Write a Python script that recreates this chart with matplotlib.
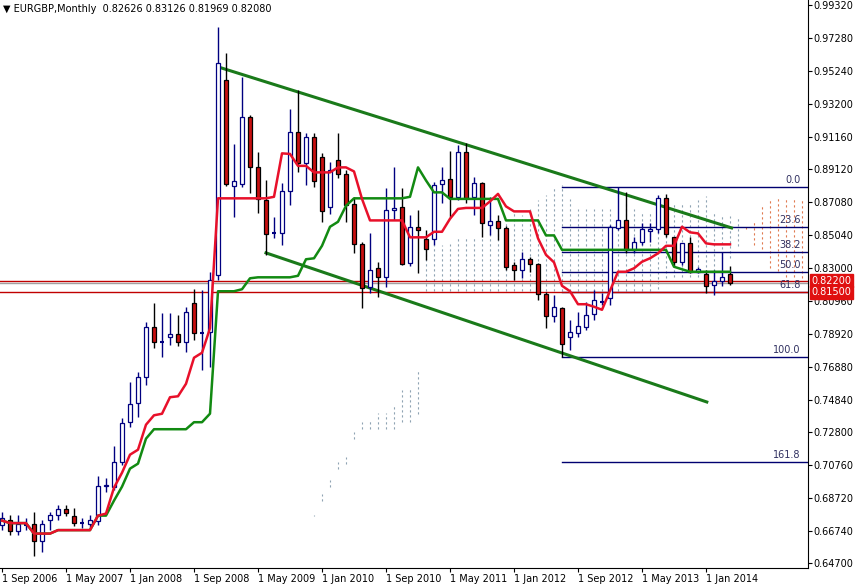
import numpy as np
import pandas as pd
import matplotlib
matplotlib.use("Agg")
import matplotlib.pyplot as plt
import matplotlib.transforms as mtransforms

# Monthly EURGBP candles, Sep 2006 .. Apr 2014
opens = [.6708, .6739, .6671, .6708, .6714, .6609, .6739, .6770, .6807, .6764,
         .6720, .6714, .6733, .6950, .6944, .7099, .7347, .7464, .7626, .7936,
         .7843, .7874, .7892, .7843, .8084, .7898, .7905, .8258, .9467, .8810,
         .8822, .9238, .8928, .8723, .8518, .8518, .8779, .9145, .8952, .9114,
         .8990, .8680, .8971, .8884, .8698, .8450, .8184, .8301, .8246, .8661,
         .8680, .8332, .8556, .8481, .8481, .8822, .8853, .8742, .9021, .8742,
         .8828, .8568, .8593, .8549, .8320, .8289, .8357, .8326, .8140, .8004,
         .8053, .7874, .7898, .7936, .8016, .8091, .8115, .8549, .8599, .8413,
         .8463, .8531, .8543, .8735, .8494, .8339, .8457, .8277, .8264, .8196,
         .8221, .8263]
highs = [.6789, .6770, .6770, .6751, .6789, .6739, .6789, .6832, .6832, .6813,
         .6751, .6770, .7012, .7000, .7198, .7371, .7595, .7657, .7967, .8084,
         .8022, .8022, .8010, .8060, .8171, .8165, .8277, .9796, .9634, .9070,
         .9486, .9250, .9021, .8847, .8618, .8828, .9287, .9405, .9138, .9138,
         .9014, .8959, .9138, .8909, .8742, .8463, .8518, .8339, .8797, .8928,
         .8797, .8630, .8661, .8537, .8835, .8928, .9027, .9064, .9076, .8866,
         .8835, .8742, .8630, .8562, .8339, .8401, .8370, .8332, .8153, .8134,
         .8060, .7979, .8029, .8091, .8165, .8147, .8568, .8804, .8773, .8494,
         .8580, .8580, .8754, .8760, .8494, .8457, .8494, .8308, .8289, .8289,
         .8401, .8313]
lows = [.6677, .6646, .6646, .6677, .6516, .6541, .6677, .6739, .6764, .6702,
        .6689, .6689, .6708, .6913, .6925, .7080, .7316, .7378, .7576, .7805,
        .7750, .7824, .7818, .7781, .7855, .7669, .7688, .8227, .8810, .8618,
        .8804, .8766, .8642, .8382, .8487, .8444, .8692, .8897, .8816, .8804,
        .8587, .8636, .8859, .8587, .8394, .8053, .8146, .8122, .8184, .8599,
        .8320, .8314, .8270, .8351, .8444, .8704, .8618, .8723, .8704, .8630,
        .8494, .8506, .8475, .8289, .8227, .8239, .8277, .8103, .7929, .7967,
        .7750, .7793, .7874, .7917, .7979, .8072, .8072, .8537, .8394, .8394,
        .8444, .8463, .8518, .8494, .8308, .8320, .8270, .8270, .8146, .8134,
        .8190, .8197]
closes = [.6751, .6671, .6714, .6708, .6609, .6714, .6770, .6807, .6782, .6720,
          .6720, .6739, .6950, .6956, .7099, .7340, .7458, .7626, .7936, .7843,
          .7843, .7892, .7843, .8029, .7898, .7898, .8227, .9572, .8822, .8841,
          .9238, .8928, .8729, .8512, .8518, .8779, .9145, .8952, .9114, .8841,
          .8655, .8909, .8884, .8692, .8450, .8177, .8289, .8246, .8661, .8673,
          .8326, .8556, .8537, .8419, .8816, .8847, .8742, .9021, .8735, .8828,
          .8580, .8593, .8549, .8308, .8289, .8357, .8326, .8140, .8004, .8060,
          .7830, .7905, .7942, .8010, .8103, .8091, .8556, .8599, .8413, .8463,
          .8543, .8543, .8735, .8512, .8339, .8457, .8277, .8295, .8190, .8221,
          .8246, .8208]

date_labels = ["1 Sep 2006", "1 May 2007", "1 Jan 2008", "1 Sep 2008", "1 May 2009",
               "1 Jan 2010", "1 Sep 2010", "1 May 2011", "1 Jan 2012", "1 Sep 2012",
               "1 May 2013", "1 Jan 2014"]
price_ticks = [0.99320, 0.97280, 0.95240, 0.93200, 0.91160, 0.89120, 0.87080, 0.85040,
               0.83000, 0.80960, 0.78920, 0.76880, 0.74840, 0.72800, 0.70760, 0.68720,
               0.66680, 0.64700]
price_tick_labels = ["0.99320", "0.97280", "0.95240", "0.93200", "0.91160", "0.89120",
                     "0.87080", "0.85040", "0.83000", "0.80960", "0.78920", "0.76880",
                     "0.74840", "0.72800", "0.70760", "0.68720", "0.66740", "0.64700"]

# drawn objects: channel (bar index, price), fibonacci, horizontal levels
upper_channel_x = [27, 91.2]
upper_channel_y = [0.9548, 0.8549]
lower_channel_x = [33, 88.1]
lower_channel_y = [0.8394, 0.7469]
fib_start = 70
fib_high = 0.8804
fib_low = 0.7750
fib_levels = [0.0, 23.6, 38.2, 50.0, 61.8, 100.0, 161.8]
level_lines = [0.8220, 0.8150]
bid_price = 0.8208

df = pd.DataFrame({"o": opens, "h": highs, "l": lows, "c": closes})
n = len(df)
idx = np.arange(n)

# Ichimoku
tenkan = (df.h.rolling(9, min_periods=1).max() + df.l.rolling(9, min_periods=1).min()) / 2
kijun = (df.h.rolling(26, min_periods=1).max() + df.l.rolling(26, min_periods=1).min()) / 2
span_a = (tenkan + kijun) / 2
span_b = (df.h.rolling(52, min_periods=1).max() + df.l.rolling(52, min_periods=1).min()) / 2

fig = plt.figure(figsize=(8.57, 5.87), dpi=100)
ax = fig.add_axes([0, 19 / 587, 808 / 857, 568 / 587])
ax.set_xlim(-0.25, 100.75)
ax.set_ylim(0.64390, 0.99630)

# cloud as dotted vertical strokes, shifted 26 bars forward
for i in range(n):
    a, b = span_a[i], span_b[i]
    col = "#8fa3b3" if a >= b else "#e07a50"
    ax.vlines(i + 26, min(a, b), max(a, b), colors=col, lw=0.8,
              linestyles=(0, (2, 2.5)), zorder=1)

# fibonacci
rng = fib_high - fib_low
for lv in fib_levels:
    p = fib_high - rng * lv / 100
    ax.plot([fib_start, 100.75], [p, p], color="#000070", lw=1, zorder=2)
    ax.text(99.8, p + 0.0012, f"{lv:.1f}", ha="right", va="bottom",
            fontsize=7, color="#303060", zorder=3)

for lv in level_lines:
    ax.axhline(lv, color="#c00000", lw=1, zorder=2)
ax.axhline(bid_price, color="#a0a0a0", lw=1, zorder=2)

# channel
ax.plot(upper_channel_x, upper_channel_y, color="#1a7a1a", lw=2.2, zorder=3)
ax.plot(lower_channel_x, lower_channel_y, color="#1a7a1a", lw=2.2, zorder=3)

# candles
w = 0.6
for i in range(n):
    o, h, l, c = opens[i], highs[i], lows[i], closes[i]
    bull = c >= o
    wick = "#000080" if bull else "#000000"
    ax.vlines(i, l, h, colors=wick, lw=1, zorder=4)
    bottom, top = min(o, c), max(o, c)
    if top - bottom < 0.0005:
        ax.hlines(o, i - w / 2, i + w / 2, colors=wick, lw=1.5, zorder=5)
    else:
        ax.add_patch(plt.Rectangle((i - w / 2, bottom), w, top - bottom,
                                   facecolor="white" if bull else "#c81010",
                                   edgecolor=wick, lw=0.9, zorder=5))

ax.plot(idx, kijun, color="#128a12", lw=1.8, zorder=6)
ax.plot(idx, tenkan, color="#e8102a", lw=1.8, zorder=7)

# axes
ax.yaxis.tick_right()
ax.set_yticks(price_ticks)
ax.set_yticklabels(price_tick_labels)
ax.set_xticks(np.arange(0, 89, 8))
ax.set_xticklabels(date_labels, ha="left")
ax.tick_params(axis="both", labelsize=7, length=3, pad=1)
for s in ("top", "left"):
    ax.spines[s].set_visible(False)

tr = mtransforms.blended_transform_factory(ax.transAxes, ax.transData)
for lv in level_lines:
    ax.text(1.004, lv, f"{lv:.5f}", transform=tr, fontsize=7, color="white",
            va="center", ha="left", zorder=10,
            bbox=dict(boxstyle="square,pad=0.15", fc="#e01010", ec="#e01010"))

fig.text(0.003, 0.993, "\u25bc EURGBP,Monthly  0.82626 0.83126 0.81969 0.82080",
         fontsize=7, va="top", ha="left")

fig.savefig("out.png", dpi=100)
